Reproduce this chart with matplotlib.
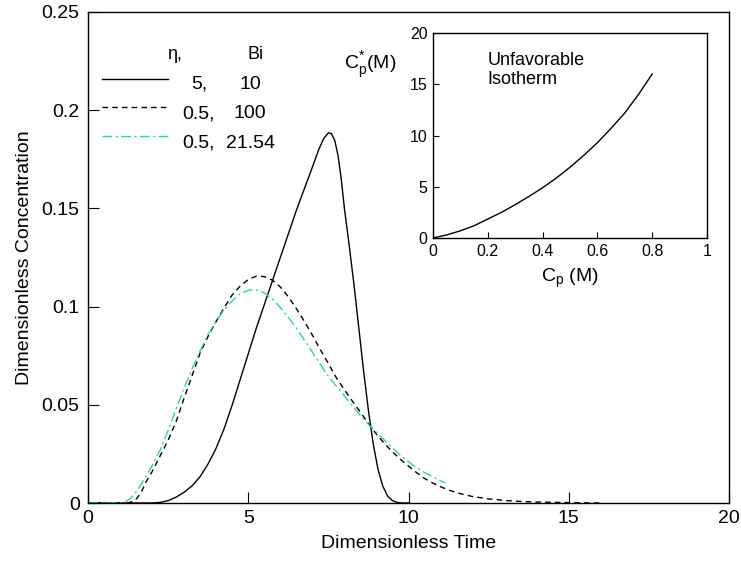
import numpy as np
import matplotlib.pyplot as plt

plt.rcParams['font.family'] = ['Liberation Sans', 'DejaVu Sans']

# eta = 5, Bi = 10 (solid)
t_a = [0, 2.0, 2.25, 2.5, 2.75, 3.0, 3.25, 3.5, 3.75, 4.0, 4.25, 4.5, 4.75, 5.0, 5.25, 5.5,
       5.75, 6.0, 6.25, 6.5, 6.75, 7.0, 7.2, 7.35, 7.5, 7.6, 7.7, 7.8, 7.9, 8.0, 8.15, 8.3,
       8.45, 8.6, 8.75, 8.9, 9.05, 9.2, 9.35, 9.5, 9.65, 9.8, 10.0]
c_a = [0, 0, 0.0003, 0.0012, 0.003, 0.0055, 0.0088, 0.0135, 0.020, 0.028, 0.038, 0.050,
       0.063, 0.076, 0.089, 0.101, 0.113, 0.125, 0.137, 0.149, 0.160, 0.171, 0.180, 0.1855,
       0.1885, 0.188, 0.1845, 0.177, 0.165, 0.150, 0.131, 0.111, 0.089, 0.067, 0.047, 0.030,
       0.017, 0.0085, 0.0035, 0.0012, 0.0003, 0, 0]

# eta = 0.5, Bi = 100 (dashed)
t_b = [0, 1.2, 1.35, 1.5, 1.65, 1.8, 2.0, 2.25, 2.5, 2.75, 3.0, 3.25, 3.5, 3.75, 4.0, 4.25,
       4.5, 4.75, 5.0, 5.25, 5.5, 5.75, 6.0, 6.25, 6.5, 6.75, 7.0, 7.25, 7.5, 7.75, 8.0, 8.25,
       8.5, 8.75, 9.0, 9.25, 9.5, 9.75, 10.0, 10.25, 10.5, 10.75, 11.0, 11.25, 11.5, 11.75,
       12.0, 12.5, 13.0, 13.5, 14.0, 15.0, 16.0]
c_b = [0, 0, 0.0005, 0.002, 0.005, 0.0105, 0.016, 0.024, 0.032, 0.0415, 0.0535, 0.065,
       0.0765, 0.085, 0.0925, 0.0995, 0.106, 0.1105, 0.1138, 0.1155, 0.1153, 0.1135, 0.110,
       0.105, 0.099, 0.0925, 0.0855, 0.078, 0.071, 0.0637, 0.0577, 0.0518, 0.0462, 0.0405,
       0.035, 0.0303, 0.026, 0.0222, 0.0188, 0.0155, 0.0125, 0.0102, 0.0083, 0.0066, 0.0053,
       0.0042, 0.0033, 0.0021, 0.0013, 0.0008, 0.0005, 0.0002, 0]

# eta = 0.5, Bi = 21.54 (dash-dot)
t_c = [0, 1.0, 1.15, 1.3, 1.45, 1.6, 1.75, 2.0, 2.25, 2.5, 2.75, 3.0, 3.25, 3.5, 3.75, 4.0,
       4.25, 4.5, 4.75, 5.0, 5.15, 5.3, 5.5, 5.75, 6.0, 6.25, 6.5, 6.75, 7.0, 7.25, 7.5, 7.75,
       8.0, 8.25, 8.5, 8.75, 9.0, 9.25, 9.5, 9.75, 10.0, 10.25, 10.5, 10.75, 11.0, 11.15]
c_c = [0, 0, 0.0005, 0.002, 0.0045, 0.008, 0.012, 0.019, 0.027, 0.037, 0.048, 0.0585,
       0.0685, 0.0775, 0.086, 0.0925, 0.0985, 0.103, 0.1065, 0.1083, 0.1086, 0.1083, 0.107,
       0.104, 0.0995, 0.0945, 0.089, 0.083, 0.0768, 0.0705, 0.0645, 0.0595, 0.0545, 0.0495,
       0.0445, 0.040, 0.036, 0.032, 0.028, 0.0243, 0.021, 0.018, 0.0155, 0.0135, 0.0113,
       0.0102]

eta_vals = ['5', '0.5', '0.5']
bi_vals = ['10', '100', '21.54']

# inset isotherm
cp = [0, 0.05, 0.1, 0.15, 0.2, 0.25, 0.3, 0.35, 0.4, 0.45, 0.5, 0.55, 0.6, 0.65, 0.7, 0.75, 0.8]
cp_star = [0, 0.3, 0.7, 1.2, 1.85, 2.5, 3.25, 4.05, 4.9, 5.85, 6.9, 8.05, 9.3, 10.7, 12.2,
           14.0, 16.0]

teal = '#3fc9a5'

fig = plt.figure(figsize=(7.41, 5.66), dpi=100)
ax = fig.add_axes([0.1188, 0.1113, 0.865, 0.8675])

la, = ax.plot(t_a, c_a, color='black', lw=1.0)
lb, = ax.plot(t_b, c_b, color='black', lw=1.0, ls=(0, (4, 3)))
lc, = ax.plot(t_c, c_c, color=teal, lw=1.0, ls=(0, (7, 2.5, 1.5, 2.5)))

ax.set_xlim(0, 20)
ax.set_ylim(0, 0.25)
ax.set_xticks([0, 5, 10, 15, 20])
ax.set_yticks([0, 0.05, 0.1, 0.15, 0.2, 0.25])
ax.set_yticklabels(['0', '0.05', '0.1', '0.15', '0.2', '0.25'])
ax.tick_params(direction='in', length=8, width=0.8, labelsize=14)
ax.tick_params(axis='y', pad=6)
ax.tick_params(axis='x', pad=5)
for s in ax.spines.values():
    s.set_linewidth(1.0)
ax.set_xlabel('Dimensionless Time', fontsize=14, labelpad=6)
ax.set_ylabel('Dimensionless Concentration', fontsize=14, labelpad=6)

# legend: lines via matplotlib legend, two centred text columns
leg = ax.legend([la, lb, lc], ['', '', ''], loc='upper left', frameon=False,
                bbox_to_anchor=(0.0, 0.905), handlelength=3.4, handletextpad=0,
                labelspacing=0.55, fontsize=14, borderaxespad=0.3)
row_y = [0.853, 0.793, 0.733]
ax.text(0.135, 0.913, 'η,', transform=ax.transAxes, fontsize=13, ha='center', va='center')
ax.text(0.262, 0.913, 'Bi', transform=ax.transAxes, fontsize=13, ha='center', va='center')
for yy, e, b in zip(row_y, eta_vals, bi_vals):
    ax.text(0.173, yy, e + ',', transform=ax.transAxes, fontsize=14, ha='center', va='center')
    ax.text(0.253, yy, b, transform=ax.transAxes, fontsize=14, ha='center', va='center')

# inset
ins = fig.add_axes([0.5843, 0.5795, 0.3698, 0.3622])
ins.plot(cp, cp_star, color='black', lw=1.0)
ins.set_xlim(0, 1)
ins.set_ylim(0, 20)
ins.set_xticks([0, 0.2, 0.4, 0.6, 0.8, 1])
ins.set_xticklabels(['0', '0.2', '0.4', '0.6', '0.8', '1'])
ins.set_yticks([0, 5, 10, 15, 20])
ins.tick_params(direction='in', length=4, width=0.8, labelsize=11.5, pad=4)
for s in ins.spines.values():
    s.set_linewidth(1.0)
ins.set_xlabel(r'C$_\mathregular{p}$ (M)', fontsize=14, labelpad=6)
ins.text(-0.23, 0.84, r'C$_\mathregular{p}^\mathregular{*}$(M)', transform=ins.transAxes,
         fontsize=14, ha='center', va='center')
ins.text(0.2, 0.82, 'Unfavorable\nIsotherm', transform=ins.transAxes, fontsize=13,
         ha='left', va='center', linespacing=1.2)

fig.savefig('out.png', dpi=100)
